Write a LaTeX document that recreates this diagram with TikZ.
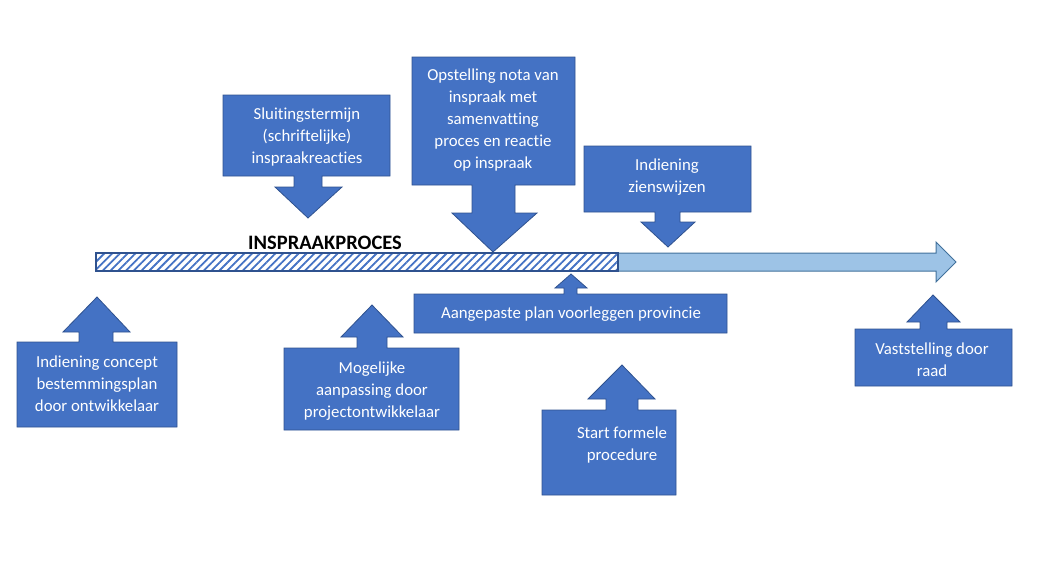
\documentclass[tikz,border=0pt]{standalone}
\usepackage{fontspec}
\setmainfont[Ligatures=NoCommon]{Carlito}
\usetikzlibrary{patterns.meta}
\definecolor{cfill}{HTML}{4472C4}
\definecolor{cline}{HTML}{2F528F}
\definecolor{lblue}{HTML}{9DC3E6}
\definecolor{aline}{HTML}{41719C}
\tikzset{
  callout/.style={fill=cfill, draw=cline, line width=0.8pt, line join=miter},
  ctext/.style={text=white, font=\fontsize{16.8}{22}\selectfont, align=center, inner sep=0pt},
  title/.style={font=\fontsize{20.5}{22}\selectfont\bfseries, inner sep=0pt},
}
\begin{document}
\begin{tikzpicture}[x=1pt,y=-1pt]
\useasboundingbox (0,0) rectangle (1047,560);
% main arrow
\draw[fill=lblue, draw=aline, line width=1pt] (618,253) -- (936,253) -- (936,242) -- (956,262) -- (936,282) -- (936,271) -- (618,271) -- cycle;
\draw[draw=cline, line width=1.2pt, pattern={Lines[angle=45,distance=5.5pt,line width=1.8pt]}, pattern color=cfill] (96,253) rectangle (618,271);
\node[title] (tit) at (325,243) {INSPRAAKPROCES};
% 1 up: Indiening concept
\draw[callout] (17,427) -- (17,342) -- (79,342) -- (79,332) -- (63,332) -- (97,297) -- (130,332) -- (113,332) -- (113,342) -- (177,342) -- (177,427) -- cycle;
\node[ctext] (c1) at (97,384) {Indiening concept\\bestemmingsplan\\door ontwikkelaar};
% 2 down: Sluitingstermijn
\draw[callout] (223,95) -- (390,95) -- (390,176) -- (322,176) -- (322,187) -- (342,187) -- (308,218) -- (275,187) -- (294,187) -- (294,176) -- (223,176) -- cycle;
\node[ctext] (c2) at (307,137) {Sluitingstermijn\\(schriftelijke)\\inspraakreacties};
% 3 down: Opstelling
\draw[callout] (412,57) -- (575,57) -- (575,185) -- (515,185) -- (515,213) -- (537,213) -- (493,252) -- (452,213) -- (472,213) -- (472,185) -- (412,185) -- cycle;
\node[ctext] (c3) at (493,120) {Opstelling nota van\\inspraak met\\samenvatting\\proces en reactie\\op inspraak};
% 4 down: Indiening zienswijzen
\draw[callout] (584,146) -- (751,146) -- (751,212) -- (680,212) -- (680,222) -- (695,222) -- (668,247) -- (641,222) -- (655,222) -- (655,212) -- (584,212) -- cycle;
\node[ctext] (c4) at (667,177) {Indiening\\zienswijzen};
% 5 up: Aangepaste plan
\draw[callout] (414,333) -- (414,294) -- (564,294) -- (564,288) -- (555,288) -- (571,274) -- (587,288) -- (577,288) -- (577,294) -- (727,294) -- (727,333) -- cycle;
\node[ctext] (c5) at (571,314) {Aangepaste plan voorleggen provincie};
% 6 up: Mogelijke
\draw[callout] (284,430) -- (284,348) -- (357,348) -- (357,337) -- (341,337) -- (372,305) -- (403,337) -- (387,337) -- (387,348) -- (459,348) -- (459,430) -- cycle;
\node[ctext] (c6) at (372,391) {Mogelijke\\aanpassing door\\projectontwikkelaar};
% 7 up: Start formele procedure
\draw[callout] (542,495) -- (542,410) -- (606,410) -- (606,399) -- (588,399) -- (622,365) -- (655,399) -- (638,399) -- (638,410) -- (676,410) -- (676,495) -- cycle;
\node[ctext] (c7) at (622,445) {Start formele\\procedure};
% 8 up: Vaststelling door raad
\draw[callout] (855,386) -- (855,329) -- (920,329) -- (920,322) -- (907,322) -- (933,295) -- (960,322) -- (947,322) -- (947,329) -- (1012,329) -- (1012,386) -- cycle;
\node[ctext] (c8) at (932,360) {Vaststelling door\\raad};
\end{tikzpicture}
\end{document}
